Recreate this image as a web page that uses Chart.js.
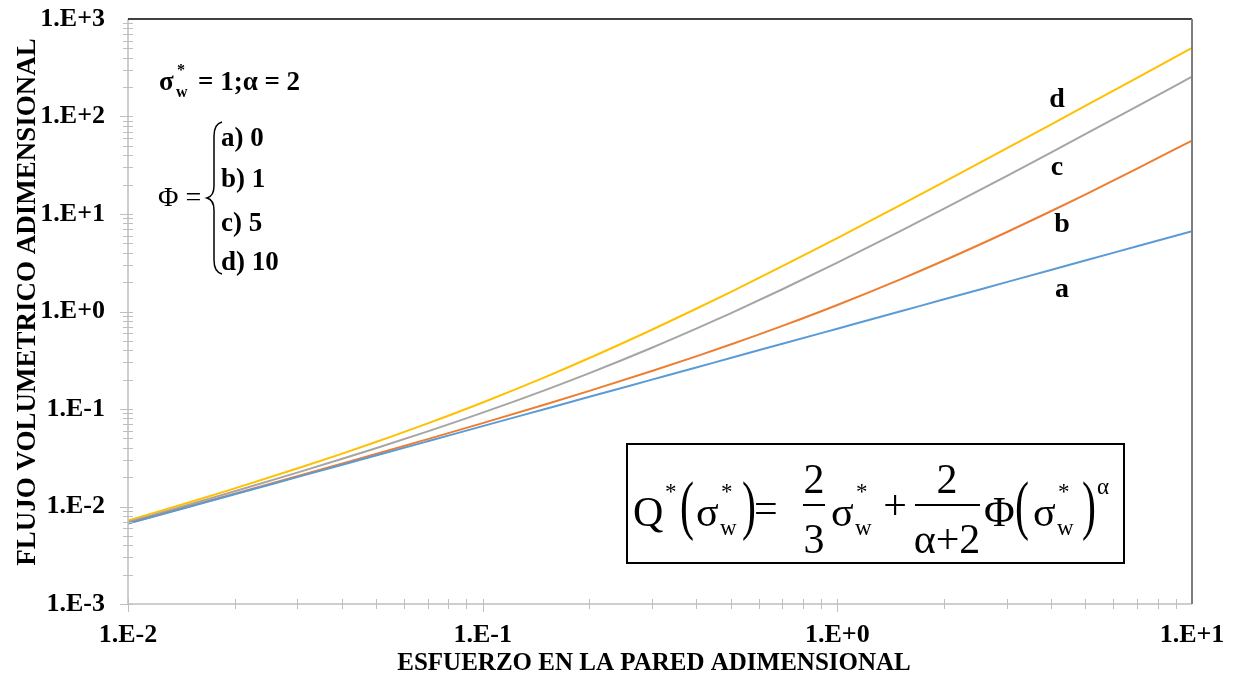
<!DOCTYPE html>
<html>
<head>
<meta charset="utf-8">
<script src="https://cdn.jsdelivr.net/npm/chart.js@4.4.1/dist/chart.umd.min.js"></script>
<style>
html,body{margin:0;padding:0;background:#fff;}
#wrap{width:1235px;height:679px;}
</style>
</head>
<body>
<div id="wrap"><canvas id="c" width="1235" height="679"></canvas></div>
<script>
// Shear stress (x) sample points
const stress = [0.01,0.015,0.02,0.03,0.04,0.05,0.07,0.1,0.15,0.2,0.3,0.4,0.5,0.7,1,1.5,2,3,4,5,7,10];
// Flow curves
const seriesA = [0.00667,0.0100,0.01333,0.0200,0.02667,0.03333,0.04667,0.0667,0.100,0.1333,0.200,0.2667,0.3333,0.4667,0.6667,1.000,1.333,2.000,2.667,3.333,4.667,6.667];
const seriesB = [0.00672,0.01011,0.01353,0.02045,0.02747,0.03458,0.04912,0.0717,0.1113,0.1533,0.245,0.3467,0.4583,0.7117,1.1667,2.125,3.333,6.50,10.667,15.833,29.167,56.667];
const seriesC = [0.00692,0.01056,0.01433,0.02225,0.03067,0.03958,0.05892,0.0917,0.1563,0.2333,0.425,0.6667,0.9583,1.6917,3.1667,6.625,11.333,24.5,42.667,65.833,127.167,256.667];
const seriesD = [0.00717,0.01113,0.01533,0.0245,0.03467,0.04583,0.07117,0.1167,0.2125,0.3333,0.650,1.0667,1.5833,2.9167,5.6667,12.25,21.333,47.0,82.667,128.333,249.667,506.667];
const seriesNames = ['a','b','c','d'];
const xTickValues = [0.01,0.1,1,10];
const yTickValues = [0.001,0.01,0.1,1,10,100,1000];

function fmtExp(v){
  const e = Math.round(Math.log10(v));
  return '1.E' + (e >= 0 ? '+' : '-') + Math.abs(e);
}
function pts(ys){ return stress.map((x,i)=>({x:x, y:ys[i]})); }

const colors = ['#5b9bd5','#ed7d31','#a5a5a5','#ffc000'];
const allSeries = [seriesA, seriesB, seriesC, seriesD];

const SERIF = '"Liberation Serif","Times New Roman",serif';

const decor = {
  id:'decor',
  afterDraw(chart){
    const ctx = chart.ctx;
    const xs = chart.scales.x, ys = chart.scales.y;
    const a = chart.chartArea;
    ctx.save();
    // minor / major ticks
    ctx.strokeStyle = '#bfbfbf';
    ctx.lineWidth = 1;
    for (let e=-3; e<3; e++){
      for (let m=1; m<10; m++){
        const v = m*Math.pow(10,e);
        const py = Math.round(ys.getPixelForValue(v))+0.5;
        ctx.beginPath();
        ctx.moveTo(a.left-(m===1?8:5), py);
        ctx.lineTo(a.left+5, py);
        ctx.stroke();
      }
    }
    for (let e=-2; e<1; e++){
      for (let m=1; m<10; m++){
        const v = m*Math.pow(10,e);
        const px = Math.round(xs.getPixelForValue(v))+0.5;
        ctx.beginPath();
        ctx.moveTo(px, a.bottom-5);
        ctx.lineTo(px, a.bottom+(m===1?8:5));
        ctx.stroke();
      }
    }
    // axes
    ctx.lineWidth = 1.5;
    ctx.strokeStyle = '#bfbfbf';
    ctx.beginPath(); ctx.moveTo(a.left, a.top); ctx.lineTo(a.left, a.bottom); ctx.lineTo(a.right, a.bottom); ctx.stroke();
    ctx.strokeStyle = '#000';
    ctx.beginPath(); ctx.moveTo(a.left, a.top); ctx.lineTo(a.right, a.top); ctx.stroke();
    ctx.strokeStyle = '#7f7f7f';
    ctx.lineWidth = 2;
    ctx.beginPath(); ctx.moveTo(a.right, a.top); ctx.lineTo(a.right, a.bottom); ctx.stroke();

    // axis titles
    ctx.fillStyle = '#000';
    ctx.font = 'bold 25px ' + SERIF;
    ctx.textAlign = 'center';
    ctx.textBaseline = 'middle';
    ctx.fillText('ESFUERZO EN LA PARED ADIMENSIONAL', 654, 664);
    ctx.save();
    ctx.translate(28, 302);
    ctx.rotate(-Math.PI/2);
    ctx.font = 'bold 27px ' + SERIF;
    ctx.fillText('FLUJO VOLUMETRICO ADIMENSIONAL', 0, 0);
    ctx.restore();

    // curve labels
    ctx.font = 'bold 28px ' + SERIF;
    const lab = [[1062,290],[1062,225],[1057,168],[1057,100]];
    seriesNames.forEach((n,i)=>{ ctx.fillText(n, lab[i][0], lab[i][1]); });

    // top-left annotation
    ctx.textAlign = 'left';
    ctx.textBaseline = 'alphabetic';
    ctx.font = 'bold 27px ' + SERIF;
    ctx.fillText('σ', 159, 90);
    ctx.font = 'bold 16px ' + SERIF;
    ctx.fillText('*', 177, 75);
    ctx.fillText('w', 176, 97);
    ctx.font = 'bold 27px ' + SERIF;
    ctx.fillText('= 1;α = 2', 198, 90);

    ctx.font = '28px ' + SERIF;
    ctx.fillText('Φ =', 158, 206);
    // brace
    ctx.strokeStyle = '#000';
    ctx.lineWidth = 1.5;
    ctx.beginPath();
    ctx.moveTo(222,122);
    ctx.quadraticCurveTo(214,124,214,136);
    ctx.lineTo(214,186);
    ctx.quadraticCurveTo(214,196,207,198);
    ctx.quadraticCurveTo(214,200,214,210);
    ctx.lineTo(214,260);
    ctx.quadraticCurveTo(214,272,222,274);
    ctx.stroke();
    ctx.font = 'bold 27px ' + SERIF;
    ctx.fillText('a) 0', 221, 146);
    ctx.fillText('b) 1', 221, 187);
    ctx.fillText('c) 5', 221, 231);
    ctx.fillText('d) 10', 221, 270);

    // formula box
    ctx.lineWidth = 2;
    ctx.strokeRect(627, 444, 497, 119);
    const F = '42px ' + SERIF, S = '23px ' + SERIF;
    function txt(t, x, y, f, al){ ctx.font = f; ctx.textAlign = al||'left'; ctx.fillText(t, x, y); }
    function paren(t, x){
      ctx.save(); ctx.font = F; ctx.textAlign='left';
      ctx.translate(x, 510); ctx.scale(1, 1.55);
      ctx.fillText(t, 0, 11);
      ctx.restore();
    }
    function sigw(x){ txt('σ', x, 526, F); txt('*', x+25, 499, S); txt('w', x+24, 535, S); }
    txt('Q', 633, 526, F);
    txt('*', 665, 499, S);
    paren('(', 680);
    sigw(696);
    paren(')', 742);
    txt('=', 754, 522, F);
    txt('2', 814, 493, F, 'center');
    txt('3', 814, 553, F, 'center');
    ctx.fillRect(803, 504, 22, 2);
    sigw(831);
    txt('+', 895, 519, F, 'center');
    txt('2', 947, 493, F, 'center');
    txt('α+2', 947, 553, F, 'center');
    ctx.fillRect(915, 504, 65, 2);
    txt('Φ', 984, 526, F);
    paren('(', 1015);
    sigw(1033);
    paren(')', 1082);
    txt('α', 1097, 494, S);
    ctx.restore();
  }
};

new Chart(document.getElementById('c'), {
  type:'line',
  data:{
    datasets: allSeries.map((s,i)=>({
      label: seriesNames[i],
      data: pts(s),
      borderColor: colors[i],
      backgroundColor: colors[i],
      borderWidth: 2,
      pointRadius: 0,
      fill: false,
      cubicInterpolationMode: 'monotone'
    }))
  },
  options:{
    responsive:false,
    animation:false,
    devicePixelRatio:1,
    layout:{padding:{left:0, top:19, right:43, bottom:0}},
    plugins:{legend:{display:false}, tooltip:{enabled:false}},
    scales:{
      x:{
        type:'logarithmic', min:0.01, max:10,
        grid:{display:false, drawTicks:false},
        border:{display:false},
        afterBuildTicks(scale){ scale.ticks = xTickValues.map(v=>({value:v, major:true})); },
        afterFit(scale){ scale.height = 75; scale.paddingLeft = 0; scale.paddingRight = 0; scale.paddingTop = 0; scale.paddingBottom = 0; },
        ticks:{
          autoSkip:false, maxRotation:0, padding:16, color:'#000',
          font:{family:SERIF, size:26, weight:'bold'},
          callback:(v)=>fmtExp(v)
        }
      },
      y:{
        type:'logarithmic', min:0.001, max:1000,
        grid:{display:false, drawTicks:false},
        border:{display:false},
        afterBuildTicks(scale){ scale.ticks = yTickValues.map(v=>({value:v, major:true})); },
        afterFit(scale){ scale.width = 128; scale.paddingLeft = 0; scale.paddingRight = 0; scale.paddingTop = 0; scale.paddingBottom = 0; },
        ticks:{
          autoSkip:false, padding:23, color:'#000',
          font:{family:SERIF, size:26, weight:'bold'},
          callback:(v)=>fmtExp(v)
        }
      }
    }
  },
  plugins:[decor]
});
</script>
</body>
</html>
